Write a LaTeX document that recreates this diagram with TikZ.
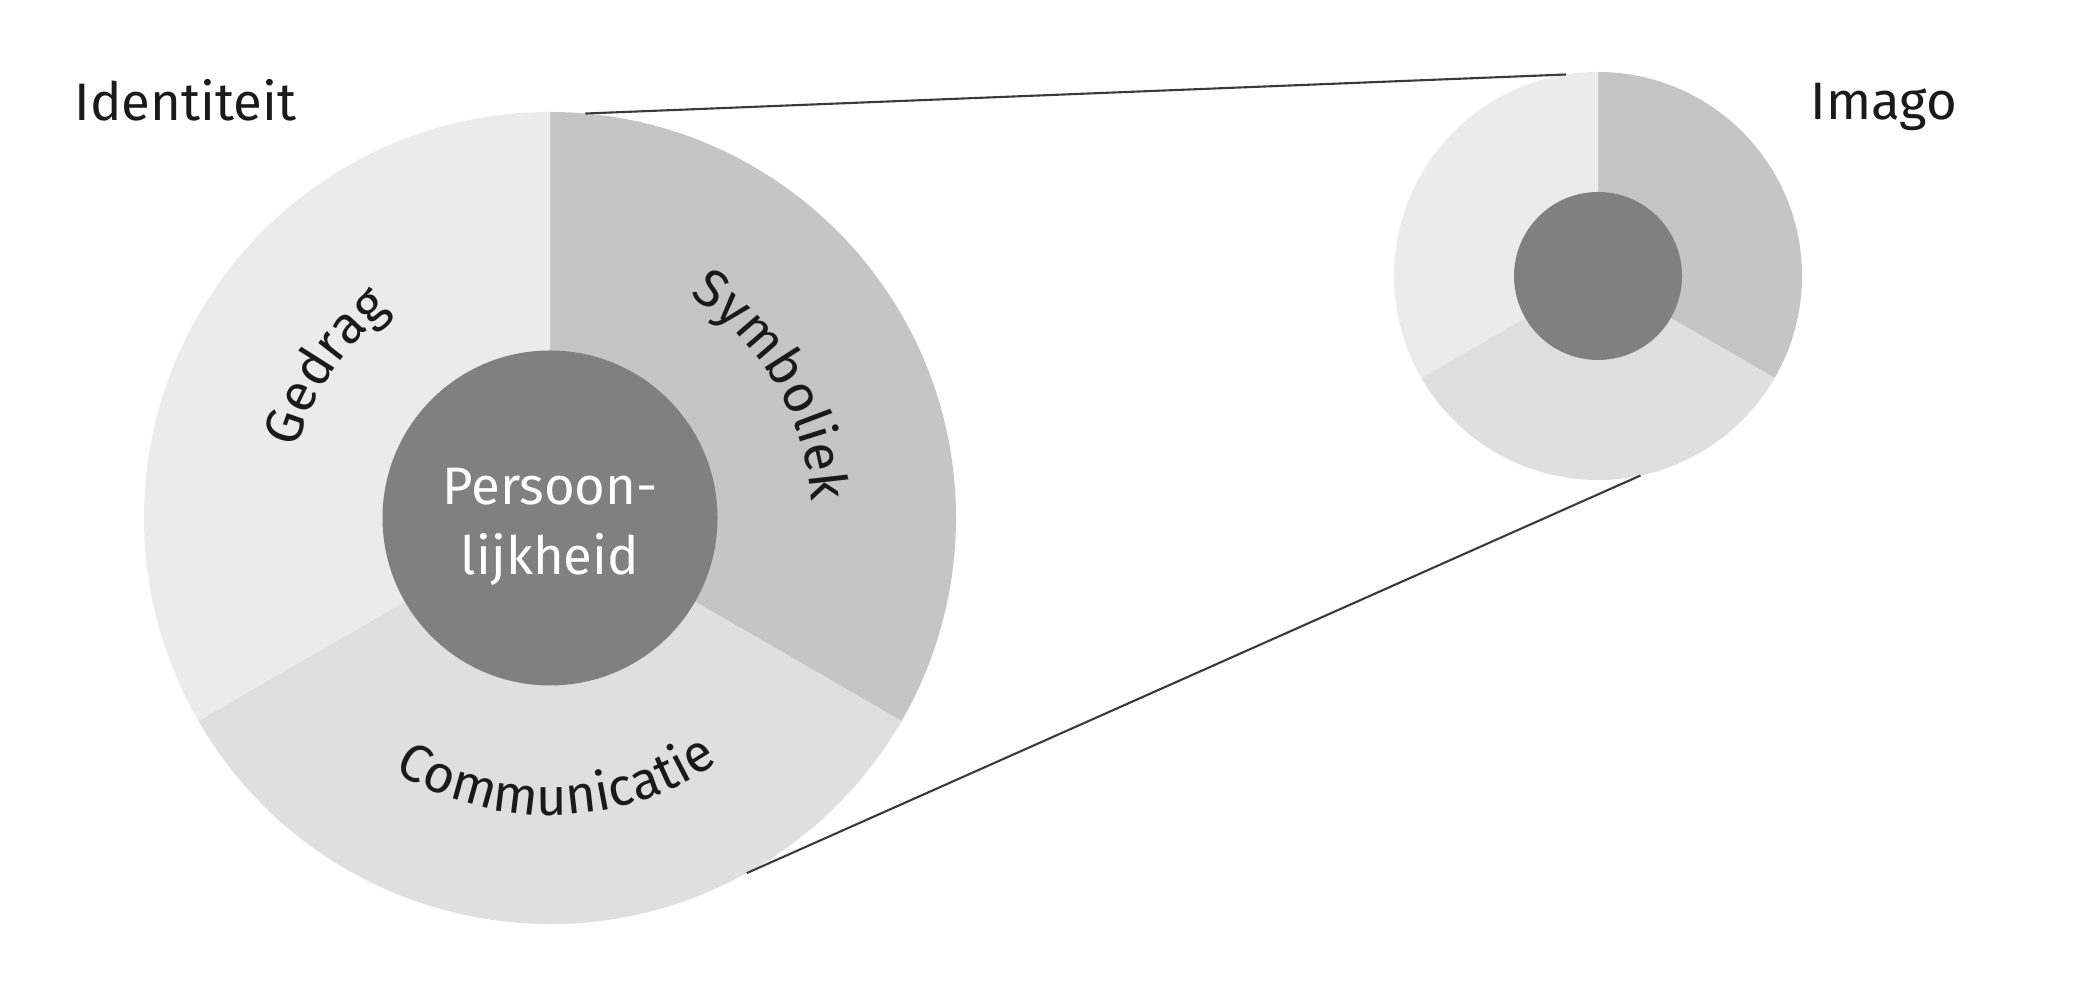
\documentclass[tikz,border=0pt]{standalone}
\usepackage{fontspec}
\setmainfont{Fira Sans}
\usepackage{tikz}
\usetikzlibrary{decorations.text}
\definecolor{symbgray}{HTML}{C4C5C4}
\definecolor{gedrgray}{HTML}{EBEBEB}
\definecolor{commgray}{HTML}{DFDFDF}
\definecolor{coregray}{HTML}{808080}
\definecolor{linegray}{HTML}{3A3A3A}
\definecolor{textblack}{HTML}{1A1A1A}
\newcommand{\ringfont}{\fontsize{15}{20}\selectfont}

\begin{document}
\begin{tikzpicture}[
	ring/.style={circle,inner sep=0pt,outer sep=0pt},
	link/.style={draw=linegray,line width=0.6pt},
	title/.style={anchor=base west,inner sep=0pt,text=textblack,font=\ringfont},
	curved/.style={decorate,decoration={text along path,text align=center,text={#1}}}
]
	\useasboundingbox (0,0) rectangle (20.91,9.94);

	\node[ring,minimum size=8.12cm] (idt) at (5.50,4.76) {};
	\node[ring,minimum size=4.08cm] (img) at (15.98,7.18) {};

	\fill[symbgray] (idt.center) -- (idt.90 ) arc[start angle=90, end angle=-30,radius=4.06] -- cycle;
	\fill[gedrgray] (idt.center) -- (idt.90 ) arc[start angle=90, end angle=210,radius=4.06] -- cycle;
	\fill[commgray] (idt.center) -- (idt.210) arc[start angle=210,end angle=330,radius=4.06] -- cycle;
	\node[ring,fill=coregray,minimum size=3.35cm] (core) at (idt.center) {};

	\fill[symbgray] (img.center) -- (img.90 ) arc[start angle=90, end angle=-30,radius=2.04] -- cycle;
	\fill[gedrgray] (img.center) -- (img.90 ) arc[start angle=90, end angle=210,radius=2.04] -- cycle;
	\fill[commgray] (img.center) -- (img.210) arc[start angle=210,end angle=330,radius=2.04] -- cycle;
	\node[ring,fill=coregray,minimum size=1.68cm] (imgcore) at (img.center) {};

	\draw[link] (idt.85 ) -- (img.99 );
	\draw[link] (idt.-61) -- (img.-78);

	\node[align=center,text=white,font=\ringfont,inner sep=0pt] (pers) at ([yshift=-0.09cm]core.center) {Persoon-\\lijkheid};

	\path[curved={|\color{textblack}\ringfont|Gedrag}]       ([shift={(186:2.62)}]idt.center) arc[start angle=186,end angle=106,radius=2.62];
	\path[curved={|\color{textblack}\ringfont|Symboliek}]    ([shift={(70.7:2.62)}]idt.center) arc[start angle=70.7,end angle=-9.3,radius=2.62];
	\path[curved={|\color{textblack}\ringfont|Communicatie}] ([shift={(226.5:2.97)}]idt.center) arc[start angle=226.5,end angle=316.5,radius=2.97];

	\node[title] (identiteit) at (0.74,8.73) {Identiteit};
	\node[title] (imago)      at (18.10,8.74) {Imago};
\end{tikzpicture}
\end{document}
